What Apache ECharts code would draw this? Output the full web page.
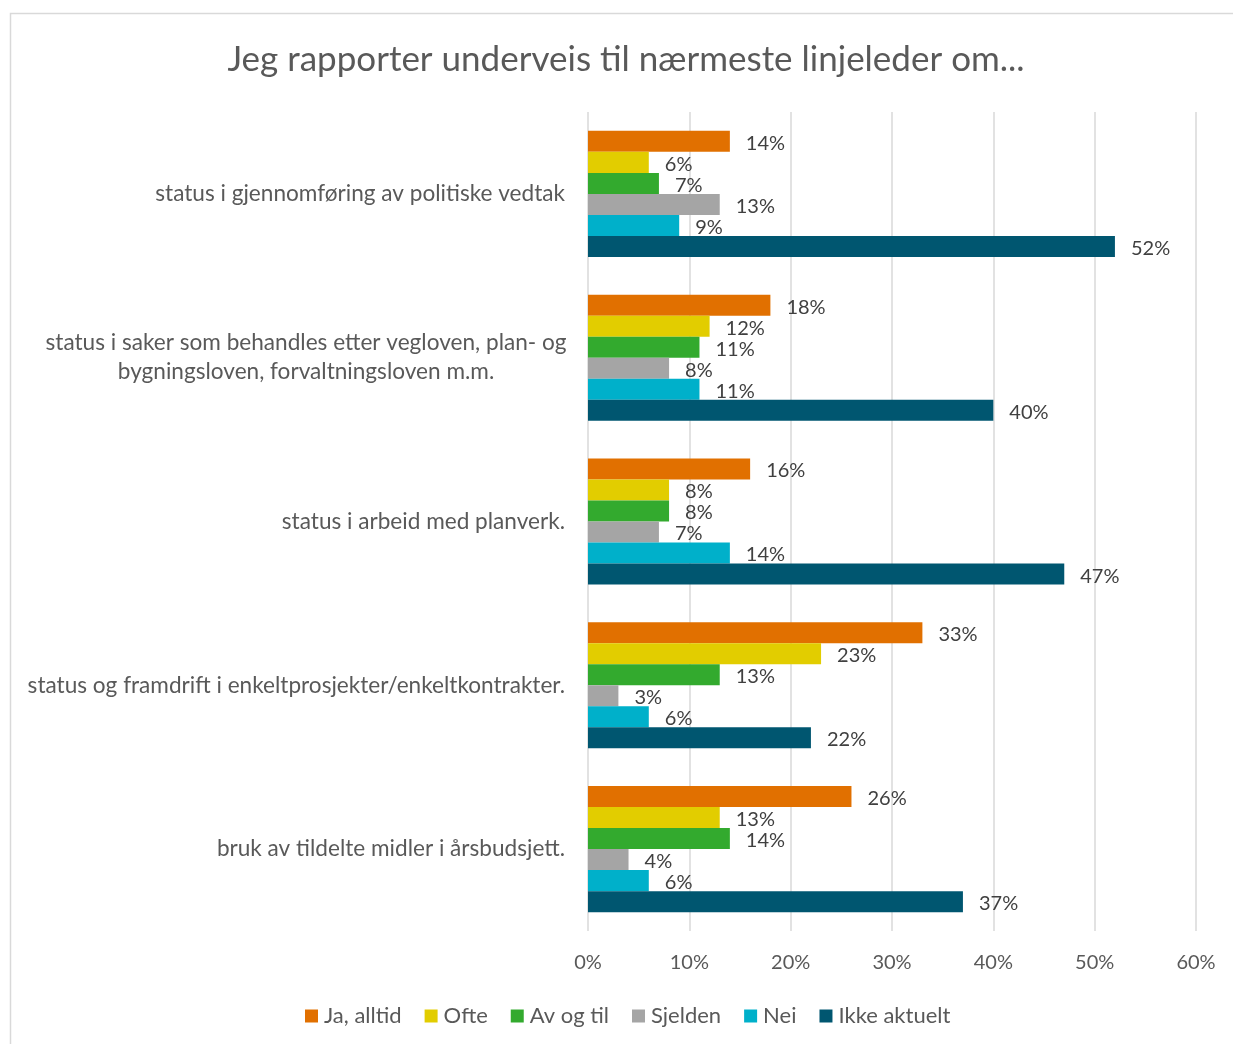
<!DOCTYPE html>
<html>
<head>
<meta charset="utf-8">
<script src="https://cdn.jsdelivr.net/npm/echarts@6/dist/echarts.min.js"></script>
<style>html,body{margin:0;padding:0;background:#fff}#c{width:1233px;height:1044px}</style>
</head>
<body>
<div id="c"></div>
<script>
const categories = [
  "status i gjennomføring av politiske vedtak",
  "status i saker som behandles etter vegloven, plan- og|bygningsloven, forvaltningsloven m.m.",
  "status i arbeid med planverk.",
  "status og framdrift i enkeltprosjekter/enkeltkontrakter.",
  "bruk av tildelte midler i årsbudsjett."
];
const seriesNames = ["Ja, alltid", "Ofte", "Av og til", "Sjelden", "Nei", "Ikke aktuelt"];
const jaAlltid   = [14, 18, 16, 33, 26];
const ofte       = [6, 12, 8, 23, 13];
const avOgTil    = [7, 11, 8, 13, 14];
const sjelden    = [13, 8, 7, 3, 4];
const nei        = [9, 11, 14, 6, 6];
const ikkeAktuelt= [52, 40, 47, 22, 37];
const xTicks = [0, 10, 20, 30, 40, 50, 60];

const colors = ["#E17000", "#E2CD00", "#33AA2E", "#A5A5A5", "#00B0CA", "#005670"];
const values = [jaAlltid, ofte, avOgTil, sjelden, nei, ikkeAktuelt];
const FONT = "Lato";

const chart = echarts.init(document.getElementById('c'));
chart.setOption({
  animation: false,
  textStyle: { fontFamily: FONT },
  title: {
    text: "Jeg rapporter underveis til nærmeste linjeleder om...",
    left: 621, top: 37, textAlign: 'center',
    textStyle: { fontFamily: FONT, fontSize: 35, fontWeight: 'normal', color: '#595959' }
  },
  graphic: [{
    type: 'rect', shape: { x: 10.5, y: 13.5, width: 1240, height: 1040 },
    style: { fill: 'none', stroke: '#d9d9d9', lineWidth: 1.5 }, silent: true
  }],
  legend: {
    data: seriesNames, bottom: 12, left: 300, itemWidth: 13, itemHeight: 13, itemGap: 23,
    icon: 'rect',
    textStyle: { fontFamily: FONT, fontSize: 22, color: '#595959', padding: [0, 0, 0, 1] }
  },
  grid: { left: 588, right: 37, top: 112, bottom: 113, containLabel: false },
  xAxis: {
    type: 'value', min: 0, max: 60, interval: 10,
    axisLine: { show: false }, axisTick: { show: false },
    splitLine: { lineStyle: { color: '#d9d9d9', width: 1.5 } },
    axisLabel: { formatter: v => v + '%', fontFamily: FONT, fontSize: 20, color: '#595959', margin: 22 }
  },
  yAxis: {
    type: 'category', data: categories, inverse: true,
    axisLine: { show: false }, axisTick: { show: false },
    axisLabel: {
      margin: 23, fontFamily: FONT, fontSize: 22.6, color: '#595959', lineHeight: 29,
      formatter: function (v) {
        if (v.indexOf('|') >= 0) {
          return v.split('|').map(s => '{c|' + s + '}').join('\n');
        }
        return v;
      },
      rich: { c: { width: 518, align: 'center', fontFamily: FONT, fontSize: 22.6, color: '#595959', lineHeight: 29 } }
    }
  },
  series: seriesNames.map((n, i) => ({
    name: n, type: 'bar', data: values[i],
    barGap: '0%', barCategoryGap: '23%',
    itemStyle: { color: colors[i] },
    label: {
      show: true, position: 'right', distance: 16, formatter: '{c}%', offset: [0, 2],
      fontFamily: FONT, fontSize: 20, color: '#404040'
    }
  }))
});
</script>
</body>
</html>
